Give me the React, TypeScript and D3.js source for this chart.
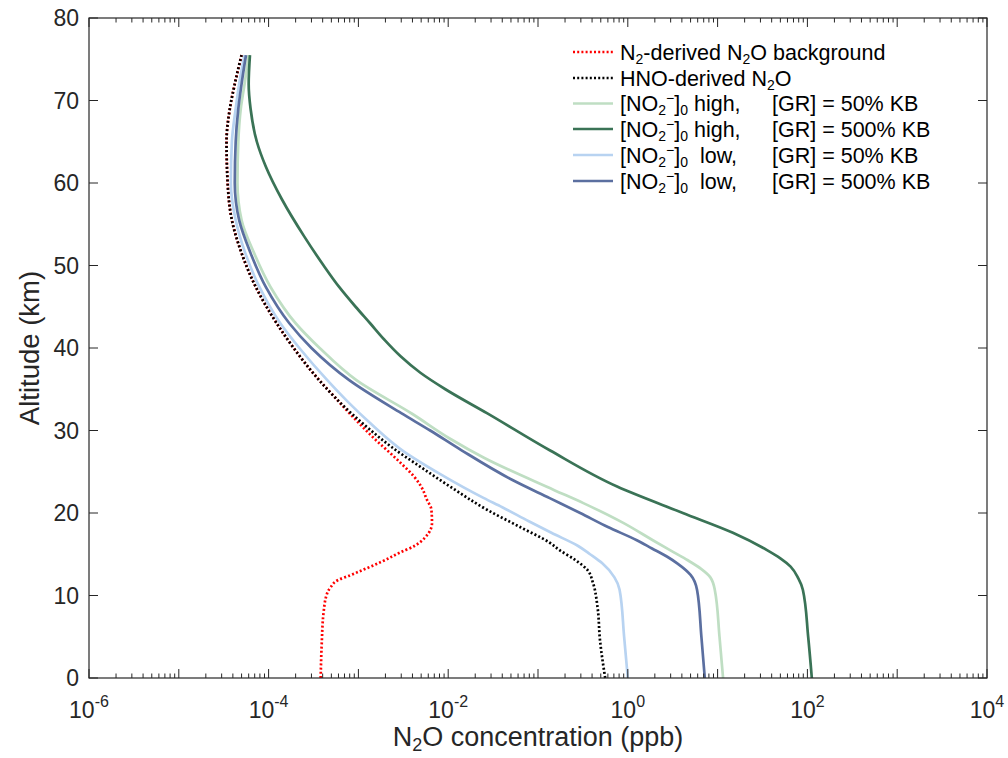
import React from "react";
import * as d3 from "d3";

// altitude (km) / N2O concentration (ppb) for each profile
const altN2 = [0, 4, 8, 10.3, 11, 11.9, 12.4, 13.1, 14.1, 15.2, 16, 17.1, 18.8, 20.4, 21.6, 23.2, 24.5, 26, 27.5, 29, 30.5, 32, 34, 36.5, 40, 43, 47.4, 51.5, 55.5, 60, 65, 69, 72, 75.5];
const concN2 = [3.8e-4, 3.9e-4, 4.1e-4, 4.5e-4, 4.9e-4, 6.0e-4, 7.9e-4, 1.12e-3, 1.82e-3, 2.9e-3, 4.2e-3, 5.6e-3, 6.6e-3, 6.5e-3, 5.8e-3, 5.0e-3, 4.1e-3, 3.0e-3, 2.14e-3, 1.51e-3, 1.1e-3, 8.1e-4, 5.5e-4, 3.4e-4, 1.9e-4, 1.23e-4, 7.2e-5, 5.0e-5, 3.9e-5, 3.5e-5, 3.4e-5, 3.7e-5, 4.2e-5, 5.0e-5];

const altHNO = [0, 4.6, 8.6, 11.5, 13.1, 14.3, 15.5, 16.4, 18.3, 20.4, 23.2, 25.6, 28, 30, 32, 34, 36.5, 40, 43, 47.4, 51.5, 55.5, 60, 65, 69, 72, 75.5];
const concHNO = [0.56, 0.49, 0.46, 0.41, 0.355, 0.26, 0.174, 0.135, 0.063, 0.027, 0.0105, 4.9e-3, 2.34e-3, 1.38e-3, 8.5e-4, 5.5e-4, 3.4e-4, 1.9e-4, 1.23e-4, 7.2e-5, 5.0e-5, 3.9e-5, 3.5e-5, 3.4e-5, 3.7e-5, 4.2e-5, 5.0e-5];

const altHigh50 = [0, 5, 10.7, 12.2, 13.2, 14.3, 15.2, 16.7, 18.8, 21.2, 22.8, 26.7, 29, 32, 36.1, 40, 43, 47.4, 51.5, 55.5, 60, 65, 69, 72, 75.5];
const concHigh50 = [11.5, 10.5, 9.3, 8.3, 6.6, 4.6, 3.3, 1.9, 0.89, 0.32, 0.15, 0.025, 0.0105, 4.0e-3, 9.5e-4, 3.7e-4, 2.0e-4, 1.05e-4, 6.9e-5, 5.0e-5, 4.5e-5, 4.6e-5, 4.9e-5, 5.4e-5, 6.0e-5];

const altHigh500 = [0, 5, 10.7, 12.1, 13.5, 14.5, 15.5, 17.6, 20, 23.2, 27.6, 32.1, 35, 37, 39, 41, 43, 45, 47.4, 50, 53.5, 58, 62, 65, 69, 72, 75.5];
const concHigh500 = [112, 102, 89, 79, 65, 50, 35.5, 14.8, 4.1, 0.76, 0.135, 0.027, 9.3e-3, 4.9e-3, 2.95e-3, 1.95e-3, 1.35e-3, 9.3e-4, 6.1e-4, 4.1e-4, 2.5e-4, 1.41e-4, 9.3e-5, 7.4e-5, 6.3e-5, 6.0e-5, 6.2e-5];

const altLow50 = [0, 5, 10.7, 12.2, 13.9, 15, 16, 17.6, 19, 20.7, 21.8, 24.8, 27.5, 30.9, 33.5, 36.1, 40, 43, 47.4, 51.5, 55.5, 60, 65, 69, 72, 75.5];
const concLow50 = [1.0, 0.91, 0.81, 0.71, 0.52, 0.38, 0.28, 0.141, 0.079, 0.04, 0.025, 7.9e-3, 3.16e-3, 1.35e-3, 7.6e-4, 4.5e-4, 2.2e-4, 1.35e-4, 7.9e-5, 5.5e-5, 4.3e-5, 3.8e-5, 3.9e-5, 4.3e-5, 4.7e-5, 5.4e-5];

const altLow500 = [0, 5, 10.7, 12.5, 13.9, 14.7, 15.7, 16.7, 18.3, 20, 21.8, 24, 27.6, 30, 32.1, 36.1, 40, 43, 47.4, 51.5, 55.5, 60, 65, 69, 72, 75.5];
const concLow500 = [7.2, 6.6, 5.9, 5.0, 3.55, 2.75, 1.86, 1.26, 0.6, 0.295, 0.135, 0.052, 0.0141, 6.3e-3, 3.0e-3, 7.9e-4, 3.0e-4, 1.7e-4, 9.3e-5, 6.3e-5, 4.7e-5, 4.2e-5, 4.3e-5, 4.6e-5, 5.0e-5, 5.6e-5];

const xTickExps = [-6, -4, -2, 0, 2, 4];
const yTicks = [0, 10, 20, 30, 40, 50, 60, 70, 80];

const series = [
  { key: "n2", alt: altN2, conc: concN2, color: "#ff0000", dotted: true },
  { key: "hno", alt: altHNO, conc: concHNO, color: "#000000", dotted: true },
  { key: "h50", alt: altHigh50, conc: concHigh50, color: "#bfdec3", dotted: false },
  { key: "h500", alt: altHigh500, conc: concHigh500, color: "#3a7356", dotted: false },
  { key: "l50", alt: altLow50, conc: concLow50, color: "#b8d3f1", dotted: false },
  { key: "l500", alt: altLow500, conc: concLow500, color: "#5b6fa0", dotted: false },
];

const W = 1008;
const H = 758;
const L = 89, R = 987, T = 18, B = 678;
const AX = "#262626";
const FONT = "'Liberation Sans', Arial, Helvetica, sans-serif";

const x = d3.scaleLog().domain([1e-6, 1e4]).range([L, R]);
const y = d3.scaleLinear().domain([0, 80]).range([B, T]);

const line = d3
  .line<[number, number]>()
  .x((d) => x(d[1]))
  .y((d) => y(d[0]))
  .curve(d3.curveMonotoneY);

function legendText(i: number) {
  if (i === 0)
    return (
      <>
        N<tspan dy={4} fontSize={14}>2</tspan>
        <tspan dy={-4}>-derived N</tspan>
        <tspan dy={4} fontSize={14}>2</tspan>
        <tspan dy={-4}>O background</tspan>
      </>
    );
  if (i === 1)
    return (
      <>
        HNO-derived N<tspan dy={4} fontSize={14}>2</tspan>
        <tspan dy={-4}>O</tspan>
      </>
    );
  const lvl = i === 2 || i === 3 ? "high," : " low,";
  const gr = i === 2 || i === 4 ? "[GR] = 50% KB" : "[GR] = 500% KB";
  return (
    <>
      [NO<tspan dy={4} fontSize={14}>2</tspan>
      <tspan dy={-12} fontSize={14}>−</tspan>
      <tspan dy={8}>]</tspan>
      <tspan dy={4} fontSize={14}>0</tspan>
      <tspan dy={-4}>{" " + lvl}</tspan>
      <tspan x={772}>{gr}</tspan>
    </>
  );
}

export default function App() {
  const minor: number[] = [];
  for (let e = -6; e < 4; e++) for (let k = 2; k <= 9; k++) minor.push(k * Math.pow(10, e));
  const major: number[] = d3.range(-6, 5).map((e) => Math.pow(10, e));
  const legendY = [52, 78, 103.5, 129, 155, 181];

  return (
    <div style={{ position: "absolute", left: 0, top: 0 }}>
      <svg width={W} height={H} style={{ display: "block", background: "#fff" }} fontFamily={FONT}>
        <rect x={0} y={0} width={W} height={H} fill="#fff" />

        {/* curves */}
        {series.map((s) => (
          <path
            key={s.key}
            d={line(s.alt.map((a, i) => [a, s.conc[i]] as [number, number])) || ""}
            fill="none"
            stroke={s.color}
            strokeWidth={2.7}
            strokeDasharray={s.dotted ? "2 2.2" : undefined}
          />
        ))}

        {/* axes box */}
        <rect x={L} y={T} width={R - L} height={B - T} fill="none" stroke={AX} strokeWidth={1.2} />

        {/* x ticks */}
        {major.map((v) => (
          <g key={"M" + v}>
            <line x1={x(v)} x2={x(v)} y1={B} y2={B - 9} stroke={AX} strokeWidth={1} />
            <line x1={x(v)} x2={x(v)} y1={T} y2={T + 9} stroke={AX} strokeWidth={1} />
          </g>
        ))}
        {minor.map((v) => (
          <g key={"m" + v}>
            <line x1={x(v)} x2={x(v)} y1={B} y2={B - 4.5} stroke={AX} strokeWidth={1} />
            <line x1={x(v)} x2={x(v)} y1={T} y2={T + 4.5} stroke={AX} strokeWidth={1} />
          </g>
        ))}
        {xTickExps.map((e) => (
          <text key={"xl" + e} x={x(Math.pow(10, e))} y={718} textAnchor="middle" fontSize={23} fill={AX}>
            10<tspan dy={-11} fontSize={16}>{String(e)}</tspan>
          </text>
        ))}

        {/* y ticks */}
        {yTicks.map((v) => (
          <g key={"y" + v}>
            <line x1={L} x2={L + 9} y1={y(v)} y2={y(v)} stroke={AX} strokeWidth={1} />
            <line x1={R} x2={R - 9} y1={y(v)} y2={y(v)} stroke={AX} strokeWidth={1} />
            <text x={79} y={y(v)} dy="0.36em" textAnchor="end" fontSize={23} fill={AX}>
              {v}
            </text>
          </g>
        ))}

        {/* axis labels */}
        <text x={(L + R) / 2} y={746} textAnchor="middle" fontSize={27} fill={AX}>
          N<tspan dy={5} fontSize={18}>2</tspan>
          <tspan dy={-5}>O concentration (ppb)</tspan>
        </text>
        <text
          transform={`translate(39, ${(T + B) / 2}) rotate(-90)`}
          textAnchor="middle"
          fontSize={27.5}
          fill={AX}
        >
          Altitude (km)
        </text>

        {/* legend */}
        {series.map((s, i) => (
          <g key={"lg" + s.key}>
            <line
              x1={573}
              x2={613}
              y1={legendY[i]}
              y2={legendY[i]}
              stroke={s.color}
              strokeWidth={2.7}
              strokeDasharray={s.dotted ? "2 2.2" : undefined}
            />
            <text x={620} y={legendY[i]} dy="0.36em" fontSize={21.5} fill="#000" style={{ whiteSpace: "pre" }}>
              {legendText(i)}
            </text>
          </g>
        ))}
      </svg>
    </div>
  );
}
